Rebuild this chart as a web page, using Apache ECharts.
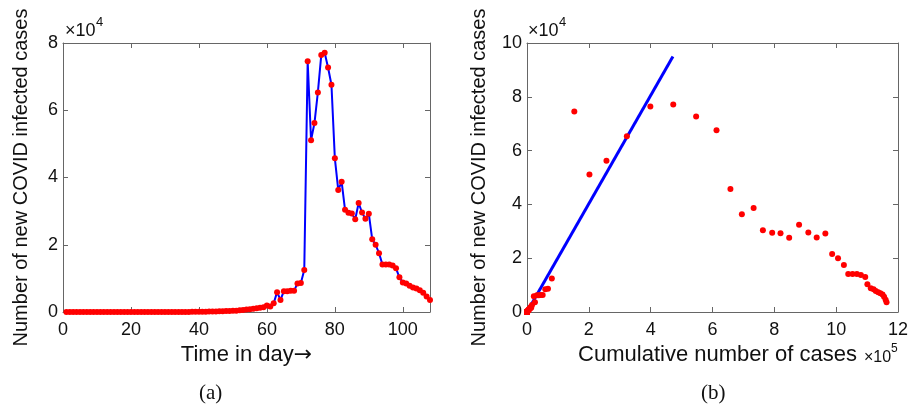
<!DOCTYPE html>
<html>
<head>
<meta charset="utf-8">
<script src="https://cdn.jsdelivr.net/npm/echarts/dist/echarts.min.js"></script>
<style>
html,body{margin:0;padding:0;background:#fff;}
#chart{width:913px;height:407px;}
</style>
</head>
<body>
<div id="chart"></div>
<script>
// Day index (1..108)
var days = [];
for (var i = 1; i <= 108; i++) days.push(i);

// New COVID infected cases per day
var newCases = [
  0,0,0,0,0,0,0,0,0,0,
  0,0,0,0,0,0,0,0,0,0,
  0,0,0,0,0,0,0,0,0,0,
  5,8,10,15,20,25,30,40,50,60,
  80,100,120,150,180,200,250,280,300,350,
  400,500,600,750,850,950,1100,1300,1400,1900,
  1600,2600,5900,3600,6200,6200,6300,6300,8500,8600,
  12500,74550,51100,56200,65300,76400,77100,72700,67600,45700,
  36300,38700,30400,29500,29300,27600,32400,29600,27700,29200,
  21600,20000,17500,14100,14100,14100,13800,13000,10300,8800,
  8500,7800,7300,7000,6500,5700,4600,3600
];

// Cumulative number of cases (x positions)
var cumCases = [
  0,0,0,0,0,0,0,0,0,0,
  0,0,0,0,0,0,0,0,0,0,
  0,0,0,0,0,0,0,0,0,0,
  5,13,23,38,58,83,113,153,203,263,
  343,443,563,713,893,1093,1343,1623,1923,2273,
  2673,3173,3773,4523,5373,6323,7423,8723,10123,12023,
  13623,16223,22123,25723,31923,38123,44423,50723,59223,67823,
  80323,153000,202000,257000,323000,399000,473000,547000,613000,658000,
  695000,733000,763000,793000,820000,848000,880000,910000,937000,965000,
  987000,1006000,1025000,1039000,1053000,1067000,1080000,1094000,1101000,1112000,
  1121000,1128000,1136000,1143000,1150000,1155000,1160000,1163000
];

// Linear fit line endpoints (panel b)
var fitX = [0, 472000];
var fitY = [0, 95000];

var leftData = days.map(function (d, i) { return [d, newCases[i]]; });
var rightData = cumCases.map(function (c, i) { return [c, newCases[i]]; });
var fitData = fitX.map(function (x, i) { return [x, fitY[i]]; });

var FONT = 'Liberation Sans, Arial, Helvetica, sans-serif';
var AX = '#666';
var TXT = '#111';

function boxAxis(base, extra) {
  var o = {
    type: 'value',
    axisLine: { show: true, onZero: false, lineStyle: { color: AX, width: 1 } },
    axisTick: { show: true, inside: true, length: 5, lineStyle: { color: AX } },
    splitLine: { show: false },
    axisLabel: { show: false }
  };
  for (var k in base) o[k] = base[k];
  for (var k2 in extra) o[k2] = extra[k2];
  return o;
}

var chart = echarts.init(document.getElementById('chart'), null, { renderer: 'canvas' });

var option = {
  animation: false,
  backgroundColor: '#fff',
  grid: [
    { left: 63, right: 483, top: 43, bottom: 95 },
    { left: 527, right: 15, top: 43, bottom: 95 }
  ],
  xAxis: [
    boxAxis({ gridIndex: 0, min: 0, max: 108, interval: 20, position: 'bottom' }, {
      axisLabel: { show: true, color: TXT, fontSize: 18, fontFamily: FONT, margin: 9, showMaxLabel: false },
      name: 'Time in day{ar|\u2192}', nameLocation: 'middle', nameGap: 32,
      nameTextStyle: { color: TXT, fontSize: 22, fontFamily: FONT,
        rich: { ar: { fontSize: 22, fontFamily: 'DejaVu Sans', color: TXT } } }
    }),
    boxAxis({ gridIndex: 0, min: 0, max: 108, interval: 20, position: 'top' }),
    boxAxis({ gridIndex: 1, min: 0, max: 1200000, interval: 200000, position: 'bottom' }, {
      axisLabel: { show: true, color: TXT, fontSize: 18, fontFamily: FONT, margin: 9,
        formatter: function (v) { return String(Math.round(v / 100000)); } },
      name: 'Cumulative number of cases', nameLocation: 'middle', nameGap: 32,
      nameTextStyle: { color: TXT, fontSize: 22, fontFamily: FONT, padding: [0, 0, 0, 10] }
    }),
    boxAxis({ gridIndex: 1, min: 0, max: 1200000, interval: 200000, position: 'top' })
  ],
  yAxis: [
    boxAxis({ gridIndex: 0, min: 0, max: 80000, interval: 20000, position: 'left' }, {
      axisLabel: { show: true, color: TXT, fontSize: 18, fontFamily: FONT, margin: 5,
        formatter: function (v) { return String(Math.round(v / 10000)); } },
      name: 'Number of new COVID infected cases', nameLocation: 'middle', nameGap: 32,
      nameTextStyle: { color: TXT, fontSize: 20, fontFamily: FONT }
    }),
    boxAxis({ gridIndex: 0, min: 0, max: 80000, interval: 20000, position: 'right' }),
    boxAxis({ gridIndex: 1, min: 0, max: 100000, interval: 20000, position: 'left' }, {
      axisLabel: { show: true, color: TXT, fontSize: 18, fontFamily: FONT, margin: 5,
        formatter: function (v) { return String(Math.round(v / 10000)); } },
      name: 'Number of new COVID infected cases', nameLocation: 'middle', nameGap: 38,
      nameTextStyle: { color: TXT, fontSize: 20, fontFamily: FONT }
    }),
    boxAxis({ gridIndex: 1, min: 0, max: 100000, interval: 20000, position: 'right' })
  ],
  series: [
    {
      type: 'line', xAxisIndex: 0, yAxisIndex: 0, data: leftData,
      showAllSymbol: true, symbol: 'circle', symbolSize: 6,
      lineStyle: { color: '#0000ff', width: 2 },
      itemStyle: { color: '#ff0000', borderWidth: 0 },
      z: 3
    },
    {
      type: 'line', xAxisIndex: 2, yAxisIndex: 2, data: fitData,
      showSymbol: false, lineStyle: { color: '#0000ff', width: 3 }, z: 2
    },
    {
      type: 'scatter', xAxisIndex: 2, yAxisIndex: 2, data: rightData,
      symbol: 'circle', symbolSize: 6, itemStyle: { color: '#ff0000', opacity: 1 }, z: 4
    }
  ],
  graphic: [
    { type: 'text', left: 65, top: 22, style: { text: '\u00d710', fontSize: 18, fontFamily: FONT, fill: TXT } },
    { type: 'text', left: 96, top: 16, style: { text: '4', fontSize: 13, fontFamily: FONT, fill: TXT } },
    { type: 'text', left: 528, top: 22, style: { text: '\u00d710', fontSize: 18, fontFamily: FONT, fill: TXT } },
    { type: 'text', left: 559, top: 16, style: { text: '4', fontSize: 13, fontFamily: FONT, fill: TXT } },
    { type: 'text', left: 864, top: 350, style: { text: '\u00d710', fontSize: 16, fontFamily: FONT, fill: TXT } },
    { type: 'text', left: 891, top: 343, style: { text: '5', fontSize: 12, fontFamily: FONT, fill: TXT } },
    { type: 'text', left: 199, top: 383, style: { text: '(a)', fontSize: 21, fontFamily: 'Liberation Serif, DejaVu Serif, serif', fill: TXT } },
    { type: 'text', left: 701, top: 383, style: { text: '(b)', fontSize: 21, fontFamily: 'Liberation Serif, DejaVu Serif, serif', fill: TXT } }
  ]
};
chart.setOption(option);
</script>
</body>
</html>
